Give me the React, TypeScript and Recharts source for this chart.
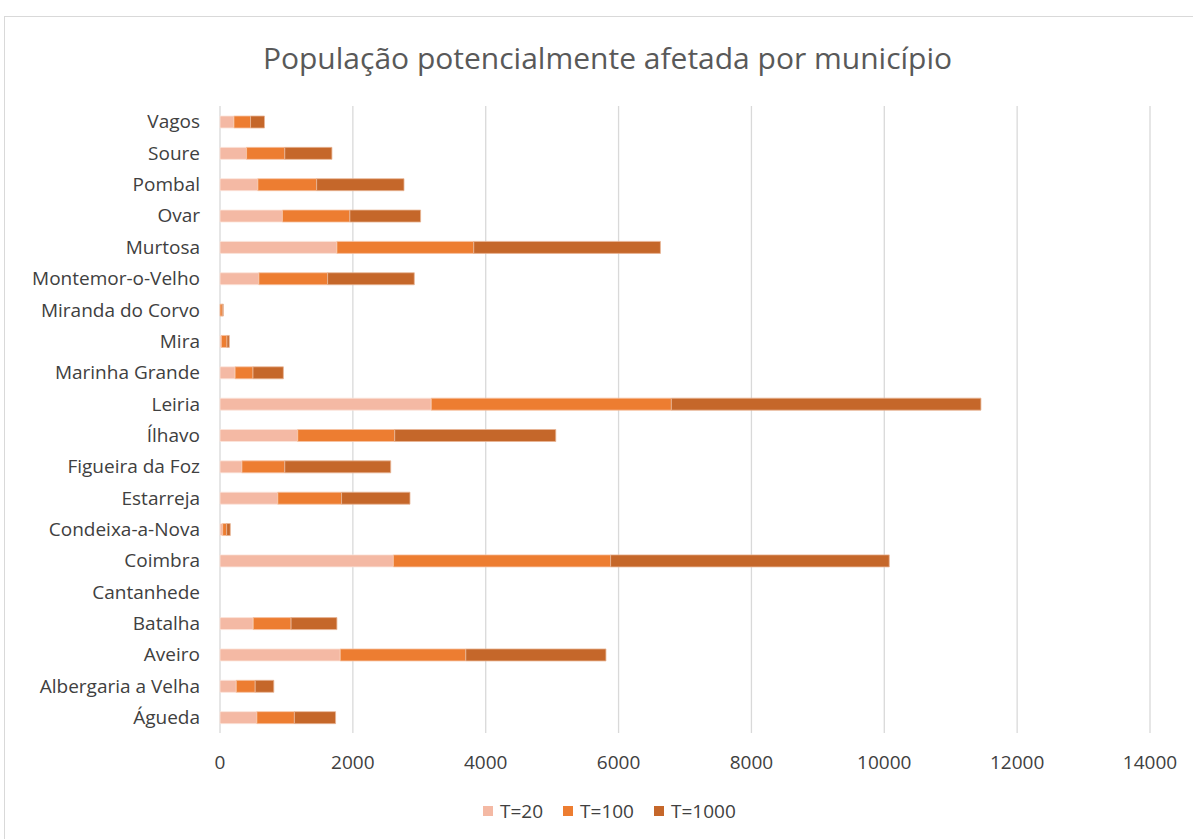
import React from "react";
import { BarChart, Bar, XAxis, YAxis, CartesianGrid } from "recharts";

const categories = [
  "Águeda",
  "Albergaria a Velha",
  "Aveiro",
  "Batalha",
  "Cantanhede",
  "Coimbra",
  "Condeixa-a-Nova",
  "Estarreja",
  "Figueira da Foz",
  "Ílhavo",
  "Leiria",
  "Marinha Grande",
  "Mira",
  "Miranda do Corvo",
  "Montemor-o-Velho",
  "Murtosa",
  "Ovar",
  "Pombal",
  "Soure",
  "Vagos",
];

const t20 = [555, 245, 1810, 500, 0, 2610, 40, 870, 330, 1170, 3180, 227, 20, 0, 585, 1760, 940, 570, 400, 210];
const t100 = [565, 285, 1890, 570, 0, 3270, 60, 960, 645, 1460, 3615, 270, 85, 35, 1035, 2060, 1015, 885, 575, 250];
const t1000 = [620, 280, 2110, 690, 0, 4195, 55, 1030, 1595, 2425, 4660, 457, 35, 15, 1305, 2810, 1065, 1315, 710, 210];

const xTicks = [0, 2000, 4000, 6000, 8000, 10000, 12000, 14000];

const seriesNames = ["T=20", "T=100", "T=1000"];
const seriesColors = ["#F4B9A4", "#ED7D31", "#C5672A"];

const data = categories.map((name, i) => ({
  name,
  t20: t20[i],
  t100: t100[i],
  t1000: t1000[i],
}));

const FONT = "'Open Sans', 'Noto Sans', sans-serif";

export default function App() {
  return (
    <div
      style={{
        position: "absolute",
        left: 0,
        top: 0,
        width: 1193,
        height: 839,
        overflow: "hidden",
        background: "#fff",
        fontFamily: FONT,
      }}
    >
      <div
        style={{
          position: "absolute",
          left: 4,
          top: 16,
          width: 1300,
          height: 900,
          border: "1px solid #d9d9d9",
          boxSizing: "border-box",
        }}
      />
      <div
        style={{
          position: "absolute",
          left: 0,
          top: 39,
          width: 1215,
          textAlign: "center",
          fontSize: 30,
          lineHeight: "38px",
          color: "#595959",
        }}
      >
        População potencialmente afetada por município
      </div>
      <div style={{ position: "absolute", left: 0, top: 0 }}>
        <BarChart
          width={1193}
          height={839}
          data={data}
          layout="vertical"
          margin={{ top: 106, right: 43, left: 0, bottom: 66 }}
          barSize={12}
        >
          <CartesianGrid horizontal={false} stroke="#d9d9d9" strokeWidth={1.3} />
          <XAxis
            type="number"
            domain={[0, 14000]}
            ticks={xTicks}
            interval={0}
            axisLine={false}
            tickLine={false}
            tickSize={0}
            tickMargin={23}
            height={40}
            tick={{ fill: "#404040", fontSize: 19, fontFamily: FONT }}
          />
          <YAxis
            type="category"
            dataKey="name"
            reversed
            width={220}
            interval={0}
            axisLine={false}
            tickLine={false}
            tickSize={0}
            tickMargin={20}
            tick={{ fill: "#404040", fontSize: 19, fontFamily: FONT }}
          />
          <Bar dataKey="t20" name={seriesNames[0]} stackId="a" fill={seriesColors[0]} stroke="#fbe4da" strokeWidth={0.8} isAnimationActive={false} />
          <Bar dataKey="t100" name={seriesNames[1]} stackId="a" fill={seriesColors[1]} stroke="#f6c3a3" strokeWidth={0.8} isAnimationActive={false} />
          <Bar dataKey="t1000" name={seriesNames[2]} stackId="a" fill={seriesColors[2]} stroke="#e9b596" strokeWidth={0.8} isAnimationActive={false} />
        </BarChart>
      </div>
      <div
        style={{
          position: "absolute",
          left: 483,
          top: 798,
          display: "flex",
          alignItems: "center",
          fontSize: 19,
          lineHeight: "26px",
          color: "#404040",
        }}
      >
        {seriesNames.map((n, i) => (
          <div key={n} style={{ display: "flex", alignItems: "center", marginRight: 20 }}>
            <div style={{ width: 10, height: 10, background: seriesColors[i], marginRight: 7 }} />
            <span>{n}</span>
          </div>
        ))}
      </div>
    </div>
  );
}
